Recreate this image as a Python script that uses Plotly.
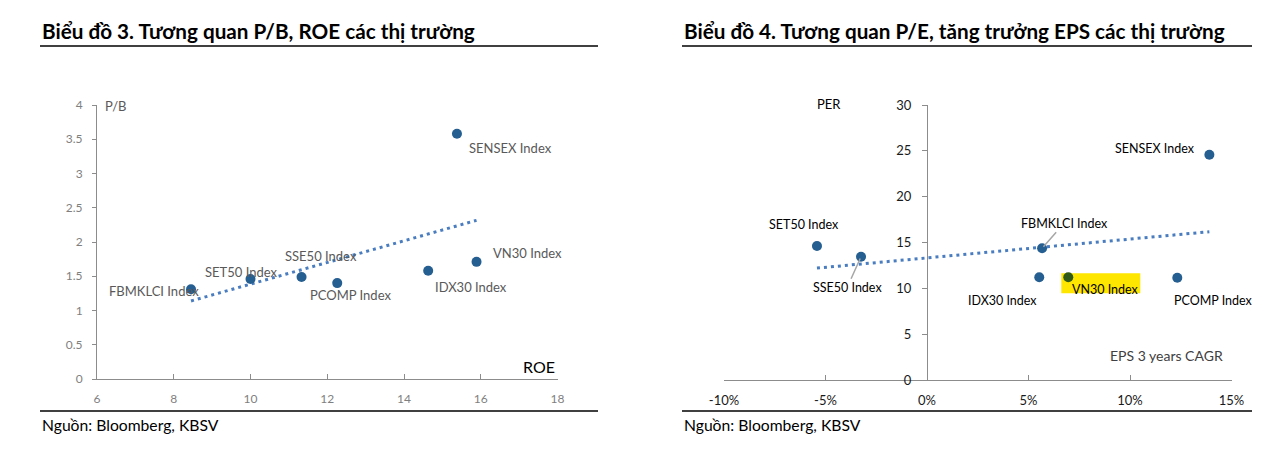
import numpy as np
import plotly.graph_objects as go

W, H = 1278, 452

# ---------------- Data: Biểu đồ 3 (P/B vs ROE) ----------------
pb_names = ["FBMKLCI Index", "SET50 Index", "SSE50 Index", "PCOMP Index",
            "IDX30 Index", "VN30 Index", "SENSEX Index"]
pb_roe = [8.45, 10.0, 11.33, 12.26, 14.63, 15.89, 15.38]
pb_val = [1.31, 1.46, 1.49, 1.40, 1.58, 1.71, 3.58]
roe_ticks = [6, 8, 10, 12, 14, 16, 18]
pb_ticks = [0, 0.5, 1, 1.5, 2, 2.5, 3, 3.5, 4]
pb_tick_text = ["0", "0.5", "1", "1.5", "2", "2.5", "3", "3.5", "4"]

# ---------------- Data: Biểu đồ 4 (P/E vs EPS growth) ----------------
pe_names = ["SET50 Index", "SSE50 Index", "FBMKLCI Index", "IDX30 Index",
            "VN30 Index", "PCOMP Index", "SENSEX Index"]
pe_eps = [-5.42, -3.25, 5.67, 5.53, 6.96, 12.33, 13.91]
pe_val = [14.62, 13.45, 14.37, 11.20, 11.20, 11.16, 24.58]
eps_ticks = [-10, -5, 0, 5, 10, 15]
eps_tick_text = ["-10%", "-5%", "0%", "5%", "10%", "15%"]
per_ticks = [0, 5, 10, 15, 20, 25, 30]
per_tick_text = ["0", "5", "10", "15", "20", "25", "30"]

title_left = "Biểu đồ 3. Tương quan P/B, ROE các thị trường"
title_right = "Biểu đồ 4. Tương quan P/E, tăng trưởng EPS các thị trường"
source_text = "Nguồn: Bloomberg, KBSV"

# ---------------- Styles ----------------
FONT_L = "Lato"
FONT_R = "Lato"
DOT = "#255e91"
TREND = "#4a7dc0"
GRAY_TXT = "#595959"


def px(x):
    return x / W


def py(y):
    return 1 - y / H


xdom_l = [px(97), px(557.5)]
ydom_l = [py(379), py(105)]
xdom_r = [px(724), px(1231.5)]
ydom_r = [py(380), py(105)]
xr_r = [eps_ticks[0], eps_ticks[-1]]
ypos_r = xdom_r[0] + (0 - xr_r[0]) / (xr_r[1] - xr_r[0]) * (xdom_r[1] - xdom_r[0])

fig = go.Figure()

# trendlines (least squares, like Excel)
k1, b1 = np.polyfit(pb_roe, pb_val, 1)
tx1 = np.array([min(pb_roe), max(pb_roe)])
fig.add_trace(go.Scatter(x=tx1, y=k1 * tx1 + b1, mode="lines", xaxis="x", yaxis="y",
                         line=dict(color=TREND, width=3, dash="3px,4px"),
                         hoverinfo="skip", showlegend=False))
fig.add_trace(go.Scatter(x=pb_roe, y=pb_val, mode="markers", xaxis="x", yaxis="y",
                         marker=dict(color=DOT, size=10), showlegend=False,
                         text=pb_names))

k2, b2 = np.polyfit(pe_eps, pe_val, 1)
tx2 = np.array([min(pe_eps), max(pe_eps)])
fig.add_trace(go.Scatter(x=tx2, y=k2 * tx2 + b2, mode="lines", xaxis="x2", yaxis="y2",
                         line=dict(color=TREND, width=3, dash="3px,4px"),
                         hoverinfo="skip", showlegend=False))
pe_colors = ["#2f5a18" if n == "VN30 Index" else DOT for n in pe_names]
fig.add_trace(go.Scatter(x=pe_eps, y=pe_val, mode="markers", xaxis="x2", yaxis="y2",
                         marker=dict(color=pe_colors, size=10), showlegend=False,
                         text=pe_names))

axis_gray = "#8c8c8c"
fig.update_layout(
    template="none",
    width=W, height=H, margin=dict(l=0, r=0, t=0, b=0, autoexpand=False),
    paper_bgcolor="white", plot_bgcolor="white", showlegend=False,
    xaxis=dict(domain=xdom_l, range=[roe_ticks[0], roe_ticks[-1]], tickvals=roe_ticks,
               showline=True, linecolor=axis_gray, linewidth=1, ticks="inside", ticklen=5,
               tickcolor=axis_gray, showgrid=False, zeroline=False, anchor="y", automargin=False,
               tickfont=dict(family=FONT_L, size=12, color="#7f7f7f"), ticklabelstandoff=9),
    yaxis=dict(domain=ydom_l, range=[pb_ticks[0], pb_ticks[-1]], tickvals=pb_ticks,
               ticktext=pb_tick_text, showline=True, linecolor=axis_gray, linewidth=1,
               ticks="outside", ticklen=4, tickcolor=axis_gray, showgrid=False,
               zeroline=False, anchor="x", automargin=False,
               tickfont=dict(family=FONT_L, size=12, color="#7f7f7f"), ticklabelstandoff=7),
    yaxis3=dict(overlaying="y", matches="y", anchor="x", tickvals=pb_ticks, ticks="inside",
                ticklen=4, tickcolor=axis_gray, showticklabels=False, showline=False,
                showgrid=False, zeroline=False, automargin=False),
    xaxis2=dict(domain=xdom_r, range=xr_r, tickvals=eps_ticks, ticktext=eps_tick_text,
                showline=True, linecolor=axis_gray, linewidth=1, ticks="inside", ticklen=5,
                tickcolor=axis_gray, showgrid=False, zeroline=False, anchor="y2", automargin=False,
                tickfont=dict(family=FONT_R, size=13, color="#1a1a1a"), ticklabelstandoff=8),
    yaxis2=dict(domain=ydom_r, range=[per_ticks[0], per_ticks[-1]], tickvals=per_ticks,
                ticktext=per_tick_text, showline=True, linecolor=axis_gray, linewidth=1,
                ticks="outside", ticklen=5, tickcolor=axis_gray, showgrid=False,
                zeroline=False, anchor="free", position=ypos_r, automargin=False,
                tickfont=dict(family=FONT_R, size=13, color="#1a1a1a"), ticklabelstandoff=8),
    yaxis4=dict(overlaying="y2", matches="y2", anchor="free", position=ypos_r,
                tickvals=per_ticks, ticks="inside", ticklen=5, tickcolor=axis_gray,
                showticklabels=False, showline=False, showgrid=False, zeroline=False,
                automargin=False),
)

annotations = []

# titles and footnotes
for x0, t in [(40, title_left), (682, title_right)]:
    annotations.append(dict(xref="paper", yref="paper", x=px(x0), y=py(31), text="<b>%s</b>" % t,
                            showarrow=False, xanchor="left", yanchor="middle",
                            font=dict(family=FONT_L, size=20.7, color="black")))
    annotations.append(dict(xref="paper", yref="paper", x=px(x0), y=py(425), text=source_text,
                            showarrow=False, xanchor="left", yanchor="middle",
                            font=dict(family=FONT_L, size=15.7, color="black")))

shapes = []
for x0, x1 in [(40, 598), (682, 1252)]:
    for yy in (46, 411):
        shapes.append(dict(type="line", xref="paper", yref="paper", x0=px(x0), x1=px(x1),
                           y0=py(yy), y1=py(yy), line=dict(color="black", width=1.3)))

# left axis titles
annotations.append(dict(xref="paper", yref="paper", x=px(103), y=py(106), text="P/B",
                        showarrow=False, xanchor="left", yanchor="middle",
                        font=dict(family=FONT_L, size=13, color=GRAY_TXT)))
annotations.append(dict(xref="paper", yref="paper", x=px(557), y=py(366), text="ROE",
                        showarrow=False, xanchor="right", yanchor="middle",
                        font=dict(family=FONT_L, size=16, color="black")))

# right axis titles
annotations.append(dict(xref="paper", yref="paper", x=px(829), y=py(104), text="PER",
                        showarrow=False, xanchor="center", yanchor="middle",
                        font=dict(family=FONT_R, size=13, color="black")))
annotations.append(dict(xref="paper", yref="paper", x=px(1225), y=py(355), text="EPS 3 years CAGR",
                        showarrow=False, xanchor="right", yanchor="middle",
                        font=dict(family=FONT_R, size=14, color="#404040")))

# left point labels: (xshift to left edge, yshift of text centre)
left_off = {"FBMKLCI Index": (-84, -2), "SET50 Index": (-48, 7), "SSE50 Index": (-19, 21),
            "PCOMP Index": (-29, -12), "IDX30 Index": (5, -16), "VN30 Index": (14, 9),
            "SENSEX Index": (10, -14)}
for n, xv, yv in zip(pb_names, pb_roe, pb_val):
    dx, dy = left_off[n]
    annotations.append(dict(xref="x", yref="y", x=xv, y=yv, text=n, showarrow=False,
                            xanchor="left", yanchor="middle", xshift=dx, yshift=dy,
                            font=dict(family=FONT_L, size=13, color=GRAY_TXT)))

# right point labels
right_off = {"SET50 Index": (-50, 21), "SENSEX Index": (-96, 6), "IDX30 Index": (-73, -23),
             "VN30 Index": (2, -12), "PCOMP Index": (-5, -23)}
right_arrow = {"SSE50 Index": (-14, 31), "FBMKLCI Index": (22, -25)}
for n, xv, yv in zip(pe_names, pe_eps, pe_val):
    if n in right_arrow:
        ax, ay = right_arrow[n]
        annotations.append(dict(xref="x2", yref="y2", x=xv, y=yv, text=n, showarrow=True,
                                ax=ax, ay=ay, arrowhead=0, arrowwidth=1.5, arrowcolor="#a6a6a6",
                                standoff=2, font=dict(family=FONT_R, size=12.5, color="black")))
    else:
        dx, dy = right_off[n]
        annotations.append(dict(xref="x2", yref="y2", x=xv, y=yv, text=n, showarrow=False,
                                xanchor="left", yanchor="middle", xshift=dx, yshift=dy,
                                font=dict(family=FONT_R, size=12.5, color="black")))
    if n == "VN30 Index":
        shapes.append(dict(type="rect", layer="below", xref="x2", yref="y2",
                           xsizemode="pixel", ysizemode="pixel", xanchor=xv, yanchor=yv,
                           x0=-7, x1=72, y0=4, y1=-16, fillcolor="#ffe600", line=dict(width=0)))

fig.update_layout(annotations=annotations, shapes=shapes)
fig.write_html("out.html", config={"displayModeBar": False},
               post_script="document.body.style.margin='0';document.body.style.overflow='hidden';")
